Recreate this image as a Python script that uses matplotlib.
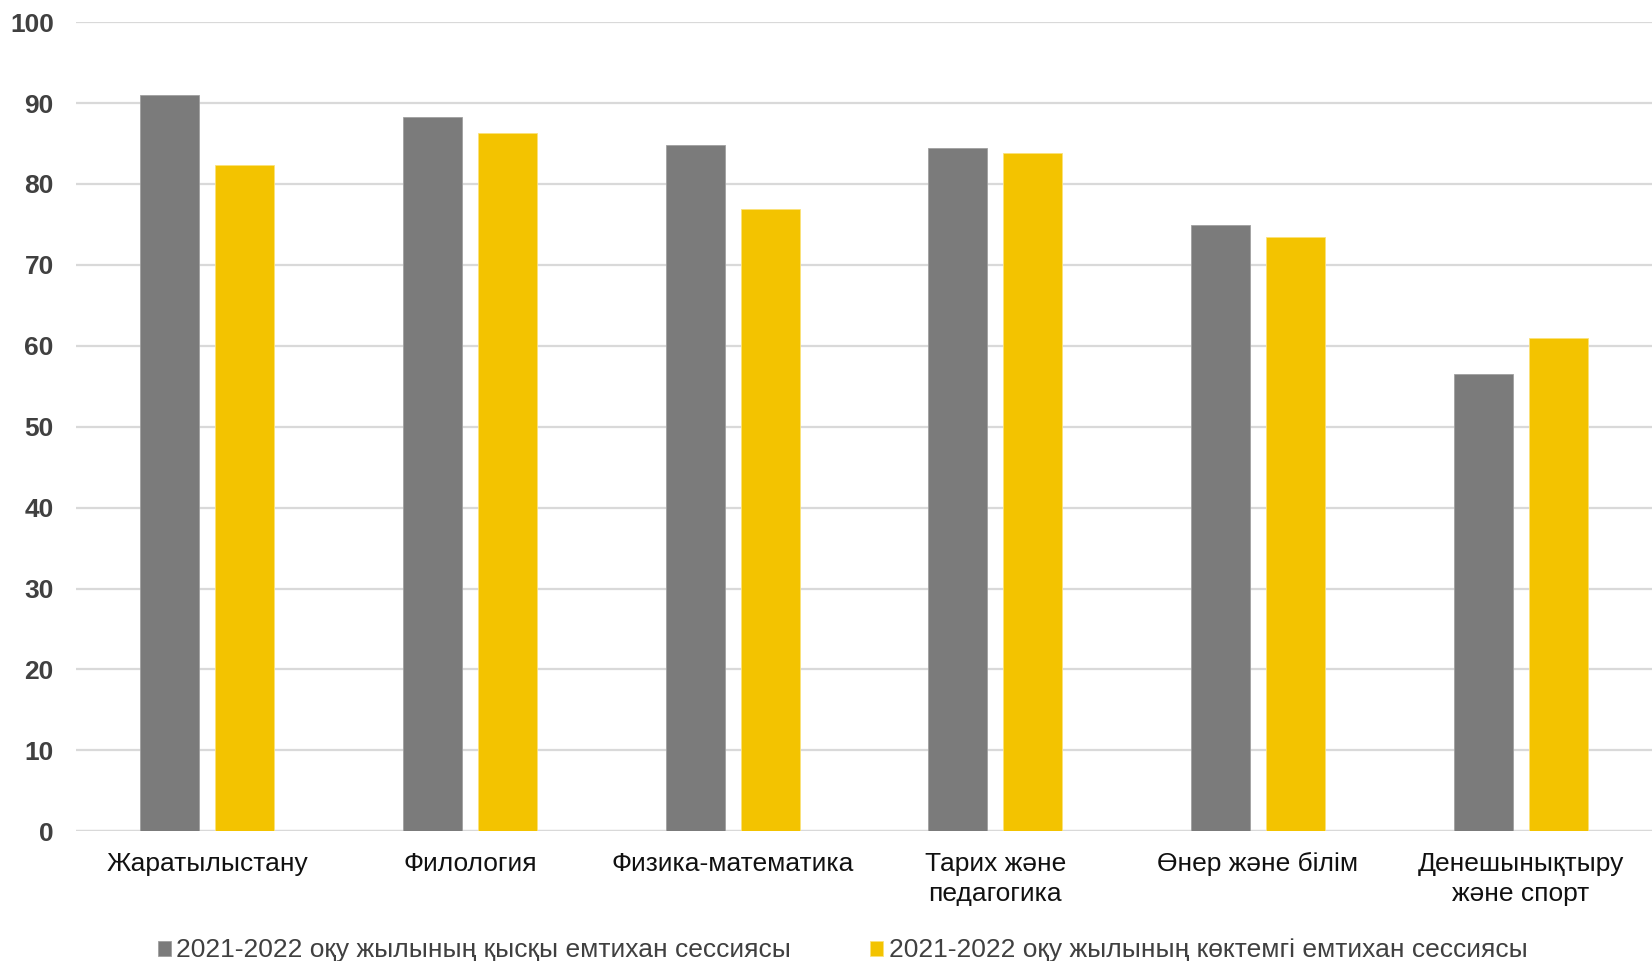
import numpy as np
import matplotlib
matplotlib.use("Agg")
import matplotlib.pyplot as plt

plt.rcParams['font.family'] = ['Liberation Sans', 'DejaVu Sans']

categories = ["Жаратылыстану", "Филология", "Физика-математика",
              "Тарих және\nпедагогика", "Өнер және білім",
              "Денешынықтыру\nжәне спорт"]
winter = [91.0, 88.3, 84.8, 84.5, 74.9, 56.5]
spring = [82.4, 86.3, 76.9, 83.8, 73.5, 60.9]
series_labels = ["2021-2022 оқу жылының қысқы емтихан сессиясы",
                 "2021-2022 оқу жылының көктемгі емтихан сессиясы"]
yticks = list(range(0, 101, 10))

fig = plt.figure(figsize=(16.52, 9.61), dpi=100)
ax = fig.add_axes([0.046, 0.135, 0.954, 0.842])

x = np.arange(len(categories))
w = 0.224
off = 0.1426
ax.bar(x - off, winter, w, color='#7B7B7B', edgecolor='#A0A0A0', linewidth=0.6,
       label=series_labels[0], zorder=3)
ax.bar(x + off, spring, w, color='#F3C300', edgecolor='#FBE27A', linewidth=0.6,
       label=series_labels[1], zorder=3)

ax.set_xlim(-0.5, len(categories) - 0.5)
ax.set_ylim(0, 100)
ax.set_yticks(yticks)
ax.yaxis.grid(True, color='#D9D9D9', linewidth=1.6, zorder=0)
for s in ax.spines.values():
    s.set_visible(False)
ax.axhline(0, color='#D9D9D9', linewidth=1.6, zorder=1)
ax.tick_params(axis='both', length=0)
ax.tick_params(axis='y', pad=16)
ax.tick_params(axis='x', pad=15)
ax.set_xticks(x)
ax.set_xticklabels(categories, fontsize=19, color='#111111', linespacing=1.3)
for t in ax.get_yticklabels():
    t.set_fontsize(19)
    t.set_fontweight('bold')
    t.set_color('#404040')

fig.legend(loc='center', bbox_to_anchor=(0.51, 0.011), ncol=2, frameon=False,
           fontsize=19, handlelength=0.5, handleheight=0.5, handletextpad=0.2,
           columnspacing=3.0, labelcolor='#404040')

fig.savefig("out.png", dpi=100)
